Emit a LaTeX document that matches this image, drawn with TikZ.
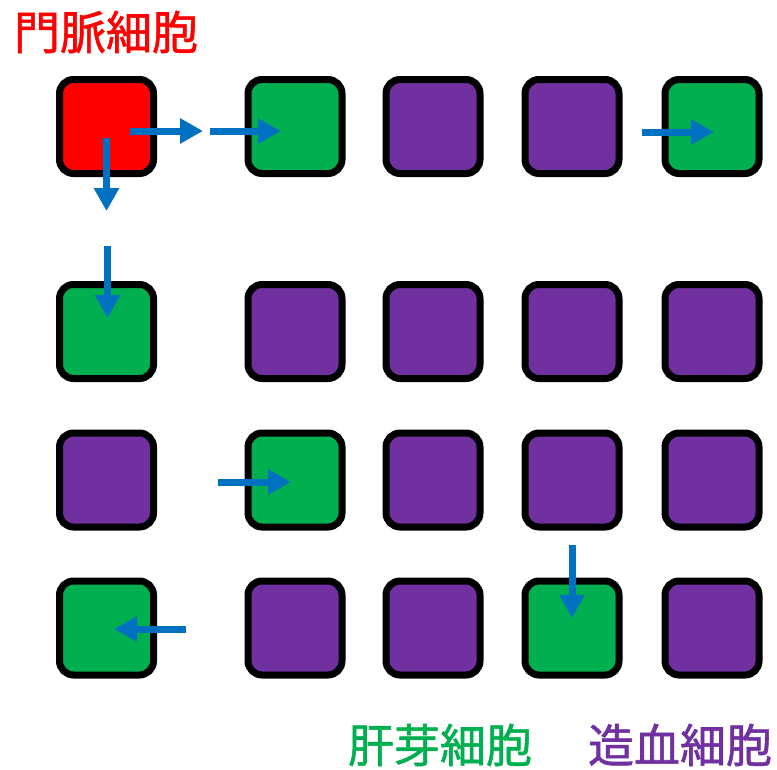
\documentclass[tikz,border=0pt]{standalone}
\usepackage{fontspec}
\newfontfamily\cjk[FakeBold=1.2]{Noto Sans CJK JP}
\usetikzlibrary{arrows.meta,calc}
\definecolor{cred}{HTML}{FF0000}
\definecolor{cgreen}{HTML}{00B050}
\definecolor{cpurple}{HTML}{7030A0}
\definecolor{cblue}{HTML}{0070C0}
\tikzset{
  cell/.style={draw=black, line width=7pt, rounded corners=14pt, minimum size=94pt, inner sep=0pt},
  redcell/.style={cell, fill=cred},
  greencell/.style={cell, fill=cgreen},
  purplecell/.style={cell, fill=cpurple},
  flow/.style={draw=cblue, line width=7pt, -{Triangle[width=24pt,length=23pt]}},
  lbl/.style={font=\cjk\fontsize{46}{50}\selectfont, inner sep=0pt}
}
\begin{document}
\begin{tikzpicture}[x=1pt,y=-1pt]
\useasboundingbox (0,0) rectangle (777,769);
% row 1
\node[redcell] (c11) at (106.5,126.5) {};
\node[greencell] (c12) at (295,126.5) {};
\node[purplecell] (c13) at (433,126.5) {};
\node[purplecell] (c14) at (572,126.5) {};
\node[greencell] (c15) at (712,126.5) {};
% row 2
\node[greencell] (c21) at (106.5,331.5) {};
\node[purplecell] (c22) at (295,331.5) {};
\node[purplecell] (c23) at (433,331.5) {};
\node[purplecell] (c24) at (572,331.5) {};
\node[purplecell] (c25) at (712,331.5) {};
% row 3
\node[purplecell] (c31) at (106.5,480) {};
\node[greencell] (c32) at (295,480) {};
\node[purplecell] (c33) at (433,480) {};
\node[purplecell] (c34) at (572,480) {};
\node[purplecell] (c35) at (712,480) {};
% row 4
\node[greencell] (c41) at (106.5,628) {};
\node[purplecell] (c42) at (295,628) {};
\node[purplecell] (c43) at (433,628) {};
\node[greencell] (c44) at (572,628) {};
\node[purplecell] (c45) at (712,628) {};
% labels
\node[lbl, text=cred] (lportal) at (106,32) {門脈細胞};
\node[lbl, text=cgreen] (lhep) at (440,745) {肝芽細胞};
\node[lbl, text=cpurple] (lhem) at (680,745) {造血細胞};
% arrow end points
\coordinate (a1s) at ($(c11)+(23.5,4.5)$);
\coordinate (a1e) at ($(c11)+(96.5,4.5)$);
\coordinate (a2s) at ($(c12)+(-85,4.5)$);
\coordinate (a2e) at ($(c12)+(-14,4.5)$);
\coordinate (a3s) at ($(c11)+(0,11.5)$);
\coordinate (a3e) at ($(c11)+(0,84.5)$);
\coordinate (a4s) at ($(c21)+(1,-85.5)$);
\coordinate (a4e) at ($(c21)+(1,-13.5)$);
\coordinate (a5s) at ($(c32)+(-77,2)$);
\coordinate (a5e) at ($(c32)+(-4,2)$);
\coordinate (a6s) at ($(c44)+(0,-83)$);
\coordinate (a6e) at ($(c44)+(0,-10)$);
\coordinate (a7s) at ($(c41)+(79.5,1)$);
\coordinate (a7e) at ($(c41)+(7.5,1)$);
\coordinate (a8s) at ($(c15)+(-70,5.5)$);
\coordinate (a8e) at ($(c15)+(2,5.5)$);
% arrows
\draw[flow] (a1s) -- (a1e);
\draw[flow] (a2s) -- (a2e);
\draw[flow] (a3s) -- (a3e);
\draw[flow] (a4s) -- (a4e);
\draw[flow] (a5s) -- (a5e);
\draw[flow] (a6s) -- (a6e);
\draw[flow] (a7s) -- (a7e);
\draw[flow] (a8s) -- (a8e);
\end{tikzpicture}
\end{document}
